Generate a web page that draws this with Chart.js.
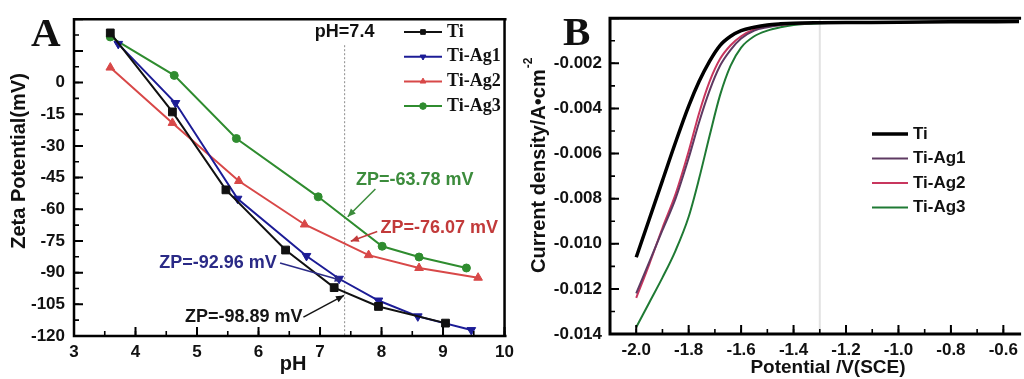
<!DOCTYPE html>
<html>
<head>
<meta charset="utf-8">
<script src="https://cdn.jsdelivr.net/npm/chart.js@4.4.0/dist/chart.umd.min.js"></script>
<style>
html, body { margin: 0; padding: 0; background: #fff; overflow: hidden; }
#wrapA { position: absolute; left: 0; top: 0; width: 520px; height: 379px; }
#wrapB { position: absolute; left: 520px; top: 0; width: 504px; height: 379px; }
</style>
</head>
<body>
<div id="wrapA"><canvas id="zetaChart"></canvas></div>
<div id="wrapB"><canvas id="tafelChart"></canvas></div>
<script>
"use strict";
// ---- data, panel A (zeta potential vs pH) ----
var seriesNames = ["Ti", "Ti-Ag1", "Ti-Ag2", "Ti-Ag3"];
var tiPH  = [3.59, 4.60, 5.47, 6.44, 7.23, 7.95, 9.04];
var tiZP  = [23.5, -13.9, -50.8, -79.3, -97.1, -106.0, -113.9];
var ag1PH = [3.72, 4.65, 5.66, 6.78, 7.31, 7.95, 8.59, 9.46];
var ag1ZP = [18.3, -9.7, -55.0, -82.1, -92.9, -103.2, -110.7, -117.2];
var ag2PH = [3.59, 4.60, 5.68, 6.75, 7.79, 8.61, 9.57];
var ag2ZP = [7.1, -19.1, -46.6, -67.2, -81.7, -87.8, -92.4];
var ag3PH = [3.59, 4.63, 5.64, 6.97, 8.01, 8.61, 9.38];
var ag3ZP = [21.6, 3.4, -26.5, -54.1, -77.5, -82.6, -87.8];
var phTicks = [3, 4, 5, 6, 7, 8, 9, 10];
var zetaTicks = [-120, -105, -90, -75, -60, -45, -30, -15, 0];
var phMark = 7.4;

// ---- data, panel B (polarisation curves) ----
var potential  = [-2.0, -1.95, -1.9, -1.85, -1.8, -1.76, -1.72, -1.68, -1.64, -1.6, -1.55, -1.5, -1.45, -1.4, -1.3, -1.2, -1.0, -0.8, -0.54];
var tiCurrent  = [-0.0106, -0.0089, -0.0072, -0.0055, -0.0039, -0.0028, -0.0019, -0.0012, -0.0008, -0.00055, -0.0004, -0.0003, -0.00025, -0.00022, -0.0002, -0.00019, -0.00018, -0.00016, -0.00015];
var ag1Current = [-0.0122, -0.0108, -0.0094, -0.0080, -0.0062, -0.0046, -0.0032, -0.0021, -0.0014, -0.0009, -0.00055, -0.0004, -0.0003, -0.00025, -0.0002, -0.00019, -0.00018, -0.00016, -0.00015];
var ag2Current = [-0.0124, -0.0109, -0.0093, -0.0078, -0.0059, -0.0042, -0.0028, -0.0018, -0.0012, -0.0008, -0.0005, -0.00037, -0.0003, -0.00025, -0.0002, -0.00019, -0.00018, -0.00016, -0.00015];
var ag3Current = [-0.0137, -0.0126, -0.0115, -0.0103, -0.0088, -0.0071, -0.0052, -0.0034, -0.0021, -0.0013, -0.0008, -0.00055, -0.0004, -0.0003, -0.00022, -0.0002, -0.00018, -0.00016, -0.00015];
var potTicks = [-2.0, -1.8, -1.6, -1.4, -1.2, -1.0, -0.8, -0.6];
var currentTicks = [-0.014, -0.012, -0.010, -0.008, -0.006, -0.004, -0.002];
var potMark = -1.3;

// annotation labels of panel A, placed in (pH, mV)
var zpNotes = [
	{ text: "ZP=-63.78 mV", color: "#3c8c3c", at: [8.54, -46.2], from: [7.90, -50.4], to: [7.45, -63.5] },
	{ text: "ZP=-76.07 mV", color: "#c23a3a", at: [8.94, -69.1], from: [7.93, -70.5], to: [7.50, -75.1] },
	{ text: "ZP=-92.96 mV", color: "#2a2a86", at: [5.34, -85.4], from: [6.35, -85.4], to: [7.37, -93.8] },
	{ text: "ZP=-98.89 mV", color: "#151515", at: [5.76, -111.1], from: [6.73, -111.1], to: [7.39, -100.8] }
];

var sans = "'Liberation Sans', Arial, sans-serif";
var serif = "'Liberation Serif', 'Times New Roman', serif";
var tickFont = { family: sans, size: 17, weight: 'bold' };

function toPoints(xs, ys) {
	return xs.map(function (x, i) { return { x: x, y: ys[i] }; });
}

// tick marks pointing into the plot
function markTicks(ctx, scale, area, step, len, horizontal) {
	var start = Math.ceil(scale.min / step - 1e-6);
	var stop = Math.floor(scale.max / step + 1e-6);
	for (var i = start; i <= stop; i++) {
		var p = scale.getPixelForValue(i * step);
		if (horizontal) {
			ctx.moveTo(p, area.bottom); ctx.lineTo(p, area.bottom - len);
		} else {
			ctx.moveTo(area.left, p); ctx.lineTo(area.left + len, p);
		}
	}
}

function makeFrame(width, closed, xStep, yStep) {
	return {
		id: 'frame',
		afterDraw: function (chart) {
			var ctx = chart.ctx, a = chart.chartArea;
			var sx = chart.scales.x, sy = chart.scales.y;
			ctx.save();
			ctx.strokeStyle = '#000';
			ctx.lineWidth = 2;
			ctx.beginPath();
			markTicks(ctx, sx, a, xStep, 9, true);
			markTicks(ctx, sy, a, yStep, 9, false);
			ctx.stroke();
			ctx.lineWidth = 1.6;
			ctx.beginPath();
			markTicks(ctx, sx, a, xStep / 2, 5, true);
			markTicks(ctx, sy, a, yStep / 2, 5, false);
			ctx.stroke();
			ctx.lineWidth = width;
			ctx.beginPath();
			ctx.moveTo(a.right + 2, a.top); ctx.lineTo(a.left, a.top);
			ctx.lineTo(a.left, a.bottom); ctx.lineTo(a.right + 2, a.bottom);
			if (closed) { ctx.moveTo(a.right, a.top); ctx.lineTo(a.right, a.bottom); }
			ctx.stroke();
			ctx.restore();
		}
	};
}

function drawLegend(ctx, datasets, x0, y0, rowH, lineLen, font, markers) {
	datasets.forEach(function (ds, i) {
		var y = y0 + i * rowH;
		ctx.strokeStyle = ds.borderColor;
		ctx.lineWidth = markers ? 2 : ds.borderWidth;
		ctx.beginPath(); ctx.moveTo(x0, y); ctx.lineTo(x0 + lineLen, y); ctx.stroke();
		if (markers && Chart.helpers && Chart.helpers.drawPoint) {
			ctx.fillStyle = ds.borderColor;
			ctx.lineWidth = 1;
			Chart.helpers.drawPoint(ctx, { pointStyle: ds.pointStyle, radius: 3.3, rotation: ds.pointRotation || 0, borderWidth: 1 }, x0 + lineLen / 2, y);
		}
		ctx.fillStyle = '#111';
		ctx.font = font;
		ctx.textAlign = 'left';
		ctx.textBaseline = 'middle';
		ctx.fillText(ds.label, x0 + lineLen + 5, y);
	});
}

function arrow(ctx, x1, y1, x2, y2, color) {
	var ang = Math.atan2(y2 - y1, x2 - x1);
	ctx.strokeStyle = color; ctx.fillStyle = color; ctx.lineWidth = 1.5;
	ctx.beginPath(); ctx.moveTo(x1, y1); ctx.lineTo(x2, y2); ctx.stroke();
	ctx.beginPath();
	ctx.moveTo(x2, y2);
	ctx.lineTo(x2 - 8 * Math.cos(ang) + 3.5 * Math.sin(ang), y2 - 8 * Math.sin(ang) - 3.5 * Math.cos(ang));
	ctx.lineTo(x2 - 8 * Math.cos(ang) - 3.5 * Math.sin(ang), y2 - 8 * Math.sin(ang) + 3.5 * Math.cos(ang));
	ctx.closePath(); ctx.fill();
}

var decorA = {
	id: 'decorA',
	beforeDatasetsDraw: function (chart) {
		var ctx = chart.ctx, a = chart.chartArea;
		var px = chart.scales.x.getPixelForValue(phMark);
		ctx.save();
		ctx.strokeStyle = '#8c8c8c'; ctx.lineWidth = 1; ctx.setLineDash([2, 2]);
		ctx.beginPath(); ctx.moveTo(px, a.top + 26); ctx.lineTo(px, a.bottom); ctx.stroke();
		ctx.restore();
	},
	afterDraw: function (chart) {
		var ctx = chart.ctx, sx = chart.scales.x, sy = chart.scales.y;
		ctx.save();
		ctx.fillStyle = '#111';
		ctx.font = 'bold 41px ' + serif;
		ctx.textAlign = 'left'; ctx.textBaseline = 'alphabetic';
		ctx.fillText('A', 31, 46);
		ctx.font = 'bold 20px ' + sans;
		ctx.textAlign = 'center'; ctx.textBaseline = 'middle';
		ctx.fillText('pH', 293, 364);
		ctx.save();
		ctx.translate(19, 161); ctx.rotate(-Math.PI / 2);
		ctx.fillText('Zeta Potential(mV)', 0, 0);
		ctx.restore();
		ctx.font = 'bold 18px ' + sans;
		ctx.fillText('pH=' + phMark, sx.getPixelForValue(phMark), sy.getPixelForValue(24));
		zpNotes.forEach(function (n) {
			arrow(ctx, sx.getPixelForValue(n.from[0]), sy.getPixelForValue(n.from[1]),
				sx.getPixelForValue(n.to[0]), sy.getPixelForValue(n.to[1]), n.color);
			ctx.fillStyle = n.color;
			ctx.font = 'bold 18px ' + sans;
			ctx.textAlign = 'center'; ctx.textBaseline = 'middle';
			ctx.fillText(n.text, sx.getPixelForValue(n.at[0]), sy.getPixelForValue(n.at[1]));
		});
		drawLegend(ctx, chart.data.datasets, 404, 32, 24.7, 38, 'bold 18px ' + serif, true);
		ctx.restore();
	}
};

var decorB = {
	id: 'decorB',
	beforeDatasetsDraw: function (chart) {
		var ctx = chart.ctx, a = chart.chartArea;
		var px = chart.scales.x.getPixelForValue(potMark);
		ctx.save();
		ctx.strokeStyle = '#e2e2e2'; ctx.lineWidth = 2;
		ctx.beginPath(); ctx.moveTo(px, a.top); ctx.lineTo(px, a.bottom); ctx.stroke();
		ctx.restore();
	},
	afterDraw: function (chart) {
		var ctx = chart.ctx;
		ctx.save();
		ctx.fillStyle = '#111';
		ctx.font = 'bold 41px ' + serif;
		ctx.textAlign = 'left'; ctx.textBaseline = 'alphabetic';
		ctx.fillText('B', 43, 45);
		ctx.font = 'bold 19px ' + sans;
		ctx.textAlign = 'center'; ctx.textBaseline = 'middle';
		ctx.fillText('Potential /V(SCE)', 308, 368);
		ctx.save();
		ctx.translate(19, 273); ctx.rotate(-Math.PI / 2);
		ctx.font = 'bold 20px ' + sans;
		ctx.textAlign = 'left';
		var main = 'Current density/A\u2022cm';
		ctx.fillText(main, 0, 0);
		var w = ctx.measureText(main).width;
		ctx.font = 'bold 12px ' + sans;
		ctx.fillText('-2', w + 1, -10);
		ctx.restore();
		drawLegend(ctx, chart.data.datasets, 352, 134, 24.5, 36, 'bold 17px ' + sans, false);
		ctx.restore();
	}
};

var zetaColors = ['#111111', '#1c1c96', '#d84848', '#2f8c2f'];
var zetaStyles = ['rect', 'triangle', 'triangle', 'circle'];
var zetaRot = [0, 180, 0, 0];
var zetaRadius = [5.5, 5, 5, 4];
var zetaData = [[tiPH, tiZP], [ag1PH, ag1ZP], [ag2PH, ag2ZP], [ag3PH, ag3ZP]];

var zetaChart = new Chart(document.getElementById('zetaChart'), {
	type: 'scatter',
	data: {
		datasets: zetaData.map(function (d, i) {
			return {
				label: seriesNames[i],
				data: toPoints(d[0], d[1]),
				showLine: true,
				borderColor: zetaColors[i],
				backgroundColor: zetaColors[i],
				borderWidth: 2,
				pointStyle: zetaStyles[i],
				pointRotation: zetaRot[i],
				pointRadius: zetaRadius[i],
				pointBorderWidth: 1,
				pointBackgroundColor: zetaColors[i],
				pointBorderColor: zetaColors[i]
			};
		})
	},
	options: {
		responsive: true,
		maintainAspectRatio: false,
		animation: false,
		layout: { padding: { top: 15, right: 10, left: 0, bottom: 0 } },
		plugins: {
			legend: { display: false },
			tooltip: { enabled: false }
		},
		scales: {
			x: {
				type: 'linear', min: 3, max: 10,
				grid: { display: false, drawTicks: false },
				border: { display: false },
				ticks: { color: '#111', font: tickFont, padding: 6, maxRotation: 0 },
				afterBuildTicks: function (s) { s.ticks = phTicks.map(function (v) { return { value: v }; }); },
				afterFit: function (s) { s.height = 43; }
			},
			y: {
				type: 'linear', min: -120, max: 30,
				grid: { display: false, drawTicks: false },
				border: { display: false },
				ticks: { color: '#111', font: tickFont, padding: 9 },
				afterBuildTicks: function (s) { s.ticks = zetaTicks.map(function (v) { return { value: v }; }); },
				afterFit: function (s) { s.width = 74; }
			}
		}
	},
	plugins: [makeFrame(2.5, true, 1, 15), decorA]
});

var tafelColors = ['#000000', '#5e3a62', '#c8365e', '#1f7a34'];
var tafelWidths = [3.5, 2, 2, 2];
var tafelData = [tiCurrent, ag1Current, ag2Current, ag3Current];

var tafelChart = new Chart(document.getElementById('tafelChart'), {
	type: 'scatter',
	data: {
		datasets: tafelData.map(function (d, i) {
			return {
				label: seriesNames[i],
				data: toPoints(potential, d),
				showLine: true,
				borderColor: tafelColors[i],
				backgroundColor: tafelColors[i],
				borderWidth: tafelWidths[i],
				cubicInterpolationMode: 'monotone',
				pointRadius: 0
			};
		})
	},
	options: {
		responsive: true,
		maintainAspectRatio: false,
		animation: false,
		layout: { padding: { top: 18, right: 0, left: 0, bottom: 0 } },
		plugins: {
			legend: { display: false },
			tooltip: { enabled: false }
		},
		scales: {
			x: {
				type: 'linear', min: -2.1, max: -0.54,
				grid: { display: false, drawTicks: false },
				border: { display: false },
				ticks: { color: '#111', font: tickFont, padding: 6, maxRotation: 0,
					callback: function (v) { return Number(v).toFixed(1); } },
				afterBuildTicks: function (s) { s.ticks = potTicks.map(function (v) { return { value: v }; }); },
				afterFit: function (s) { s.height = 45; }
			},
			y: {
				type: 'linear', min: -0.014, max: 0,
				grid: { display: false, drawTicks: false },
				border: { display: false },
				ticks: { color: '#111', font: tickFont, padding: 8,
					callback: function (v) { return Number(v).toFixed(3); } },
				afterBuildTicks: function (s) { s.ticks = currentTicks.map(function (v) { return { value: v }; }); },
				afterFit: function (s) { s.width = 90; }
			}
		}
	},
	plugins: [makeFrame(3, false, 0.2, 0.002), decorB]
});
</script>
</body>
</html>
